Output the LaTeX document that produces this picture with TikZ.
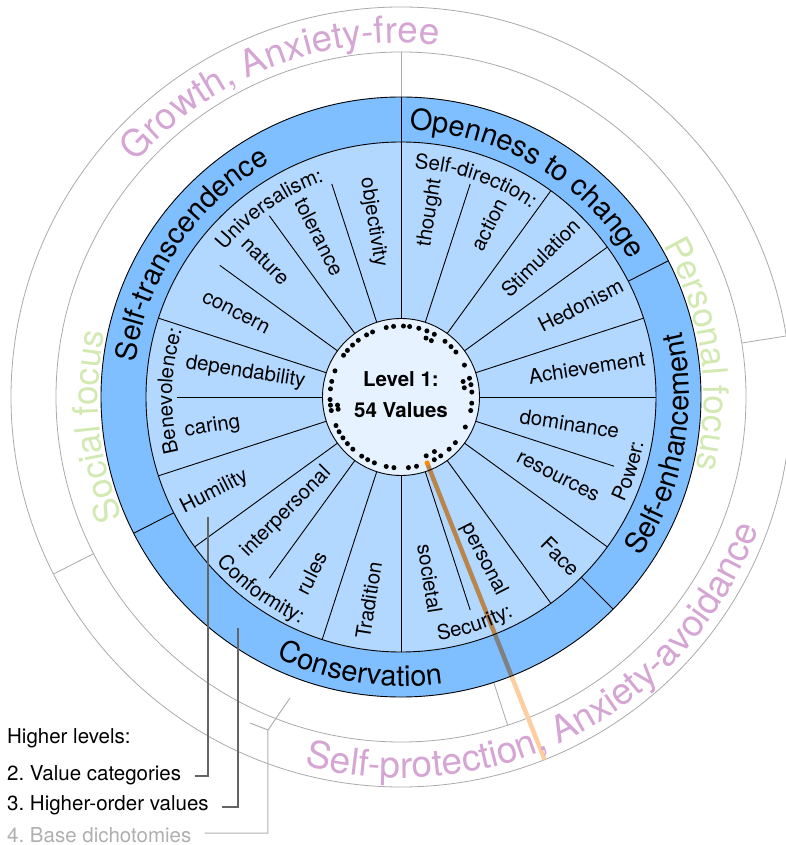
\documentclass[tikz,border=0pt]{standalone}
\usepackage{fontspec}
\setmainfont{TeX Gyre Heros}
\usetikzlibrary{decorations.text,calc}
\frenchspacing
\definecolor{lightring}{RGB}{179,216,255}
\definecolor{darkring}{RGB}{128,191,255}
\definecolor{corefill}{RGB}{230,242,255}
\definecolor{dichopurple}{RGB}{213,165,211}
\definecolor{dichogreen}{RGB}{210,233,178}
\definecolor{gridgray}{RGB}{170,170,170}
\definecolor{legdark}{RGB}{100,100,100}
\definecolor{leglight}{RGB}{175,175,175}
\definecolor{linebrown}{RGB}{184,134,76}
\definecolor{linegray}{RGB}{128,128,128}
\definecolor{linepeach}{RGB}{255,206,160}
\definecolor{dotorange}{RGB}{255,140,0}
\newcommand{\cwtext}[5]{\path[decorate,decoration={text along path,text align=center,text={#4#5}}] ({#2+#3}:#1) arc[start angle={#2+#3},end angle={#2-#3},radius=#1];}
\newcommand{\ccwtext}[5]{\path[decorate,decoration={text along path,text align=center,text={#4#5}}] ({#2-#3}:#1) arc[start angle={#2-#3},end angle={#2+#3},radius=#1];}
\begin{document}
\begin{tikzpicture}[x=1pt,y=1pt,
  valfont/.style={font=\fontsize{20.5}{24}\selectfont},
  valR/.style={valfont,anchor=east,inner sep=0pt},
  valL/.style={valfont,anchor=west,inner sep=0pt},
  legtext/.style={font=\fontsize{20.5}{24}\selectfont,anchor=base west,inner sep=0pt},
  blk/.style={black,line width=0.9pt},
  gridline/.style={gridgray,line width=0.8pt},
  legdarkline/.style={legdark,line width=1.5pt},
  leglightline/.style={leglight,line width=1pt},
  corelabel/.style={font=\bfseries\fontsize{20.5}{24}\selectfont,anchor=base,inner sep=0pt}]
\useasboundingbox (-401,-448) rectangle (384,397);
% fills
\fill[darkring] (0,0) circle (300);
\fill[lightring] (0,0) circle (255);
\fill[corefill] (0,0) circle (78.5);
% outer dichotomy rings
\draw[gridline] (0,0) circle (345);
\draw[gridline] (0,0) circle (390);
\draw[gridline] (90:300) -- (90:345);
\draw[gridline] (288:300) -- (288:345);
\draw[gridline] (9:345) -- (9:390);
\draw[gridline] (207:345) -- (207:390);
% highlighted value line
\draw[linebrown,line width=4.5pt] (-68.4:72) -- (-68.4:255);
\draw[linegray,line width=4.5pt] (-68.4:255) -- (-68.4:300);
\draw[linepeach,line width=4.5pt] (-68.4:300) -- (-68.4:390);
% sector lines
\foreach \a in {0,18,36,54,90,162,198,216,252,270,306,324} \draw[blk] (\a:78.5) -- (\a:255);
\foreach \a in {72,108,126,144,180,234,288,342} \draw[blk] (\a:78.5) -- (\a:224);
\foreach \a in {27,90,207,315} \draw[blk] (\a:255) -- (\a:300);
\draw[blk] (0,0) circle (300);
\draw[blk] (0,0) circle (255);
\draw[blk] (0,0) circle (78.5);
% dots
\foreach \a in {102,96,88,83,75.5,68.6,62,51.7,45.2,39.3,26.7,15.3,10,4,-5,-11,-25,-40,-47.3,-56,-62,-77.4,-84,-95.7,-102,-112,-118,-123.6,-132.7,-139,-144.9,-150.7,-156.3,-169,-173.4,-178,173.4,167.3,158.4,144,139,133,127,119,113.6}
  \fill[black] (\a:71) circle (2.5);
\foreach \a in {67,61.7,14,8.3,-58.5,-66.8,-169,-172.7}
  \fill[black] (\a:64) circle (2.5);
\fill[dotorange] (-68.4:71) circle (2.6);
% core text
\node[corelabel] (lvA) at (0,10) {Level 1:};
\node[corelabel] (lvB) at (0,-21) {54 Values};
% value labels, right half
\node[valR,rotate=81] (vThought) at (81:221) {thought};
\node[valR,rotate=63] (vAction) at (63:221) {action};
\node[valR,rotate=45] (vStim) at (45:248) {Stimulation};
\node[valR,rotate=27] (vHed) at (27:248) {Hedonism};
\node[valR,rotate=9] (vAch) at (9:247) {Achievement};
\node[valR,rotate=-9] (vDom) at (-9:221) {dominance};
\node[valR,rotate=-27] (vRes) at (-27:221) {resources};
\node[valR,rotate=-45] (vFace) at (-45:248) {Face};
\node[valR,rotate=-63] (vPers) at (-63:222) {personal};
\node[valR,rotate=-81] (vSoc) at (-81:219) {societal};
% value labels, left half
\node[valL,rotate=81] (vTrad) at (261:245) {Tradition};
\node[valL,rotate=63] (vRules) at (243:220) {rules};
\node[valL,rotate=45] (vInter) at (225:222) {interpersonal};
\node[valL,rotate=27] (vHum) at (207:246) {Humility};
\node[valL,rotate=9] (vCar) at (189:219) {caring};
\node[valL,rotate=-9] (vDep) at (171:218) {dependability};
\node[valL,rotate=-27] (vCon) at (153:222) {concern};
\node[valL,rotate=-45] (vNat) at (135:221) {nature};
\node[valL,rotate=-63] (vTol) at (117:222) {tolerance};
\node[valL,rotate=-81] (vObj) at (99:222) {objectivity};
% group labels
\cwtext{229}{125}{40}{|\fontsize{20.5}{24}\selectfont|}{Universalism:}
\cwtext{229}{71}{40}{|\fontsize{20.5}{24}\selectfont|}{Self-direction:}
\cwtext{229}{178.5}{40}{|\fontsize{20.5}{24}\selectfont|}{Benevolence:}
\ccwtext{247}{-18}{30}{|\fontsize{20.5}{24}\selectfont|}{Power:}
\ccwtext{246}{-72}{30}{|\fontsize{20.5}{24}\selectfont|}{Security:}
\ccwtext{248}{234}{30}{|\fontsize{20.5}{24}\selectfont|}{Conformity:}
% higher-order values
\cwtext{267}{59.5}{60}{|\fontsize{29}{32}\selectfont|}{Openness to change}
\cwtext{268}{145.8}{60}{|\fontsize{29}{32}\selectfont|}{Self-transcendence}
\ccwtext{289}{261.4}{60}{|\fontsize{29}{32}\selectfont|}{Conservation}
\ccwtext{288}{-10.3}{60}{|\fontsize{29}{32}\selectfont|}{Self-enhancement}
% base dichotomies
\cwtext{354}{111.2}{80}{|\color{dichopurple}\fontsize{37}{40}\selectfont|}{Growth, Anxiety-free}
\ccwtext{381}{297.6}{80}{|\color{dichopurple}\fontsize{37}{40}\selectfont|}{Self-protection, Anxiety-avoidance}
\cwtext{303}{8.2}{50}{|\color{dichogreen}\fontsize{35}{38}\selectfont|}{Personal focus}
\cwtext{303}{185.5}{50}{|\color{dichogreen}\fontsize{35}{38}\selectfont|}{Social focus}
% legend
\node[legtext] (hl) at (-394,-346) {Higher levels:};
\node[legtext] (l2) at (-394,-383) {2. Value categories};
\node[legtext] (l3) at (-394,-413) {3. Higher-order values};
\node[legtext,text=leglight] (l4) at (-394,-445) {4. Base dichotomies};
\coordinate (v2top) at (-193,-120);
\coordinate (v3top) at (-163,-231);
\coordinate (v4knee) at (-133,-333);
\coordinate (v4in) at (-111,-301);
\coordinate (v4out) at (-151,-326);
\draw[legdarkline] ($(l2.base east)+(14,4)$) -| (v2top);
\draw[legdarkline] ($(l3.base east)+(13,3)$) -| (v3top);
\draw[leglightline] ($(l4.base east)+(13,9)$) -| (v4knee) -- (v4in);
\draw[leglightline] (v4knee) -- (v4out);
\end{tikzpicture}
\end{document}
